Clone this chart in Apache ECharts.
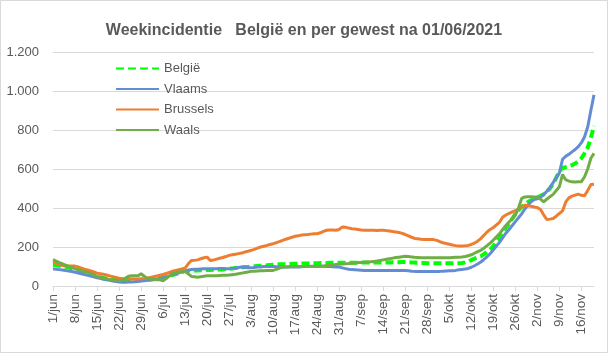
<!DOCTYPE html>
<html>
<head>
    <meta charset="utf-8">
    <title>Weekincidentie</title>
    <script src="https://cdn.jsdelivr.net/npm/echarts@6/dist/echarts.min.js"></script>
    <style>
        html, body { margin: 0; padding: 0; background: #fff; }
        #main { width: 608px; height: 353px; }
    </style>
</head>
<body>
<div id="main"></div>
<script>
    // maanden en aantal dagen per maand (1/jun t.e.m. 20/nov)
    var months = ['jun', 'jul', 'aug', 'sep', 'okt', 'nov'];
    var monthDays = [30, 31, 31, 30, 31, 20];

    var days = [];
    for (var m = 0; m < months.length; m++) {
        for (var d = 1; d <= monthDays[m]; d++) {
            days.push(d + '/' + months[m]);
        }
    }

    var seriesNames = ['België', 'Vlaams', 'Brussels', 'Waals'];

    var belgie = [
        109, 107, 104, 101, 98, 94, 90, 85,
        80, 75, 70, 65, 60, 55, 49,
        45, 41, 38, 35, 32, 30, 28,
        28, 28, 29, 29, 30, 30, 31,
        31, 32, 33, 35, 37, 39, 42,
        46, 51, 56, 61, 66, 71, 76,
        78, 79, 80, 80, 81, 81, 82,
        82, 83, 83, 84, 85, 87, 89,
        90, 92, 93, 95, 97, 98, 100,
        101, 103, 104, 105, 106, 108, 109,
        110, 111, 112, 112, 113, 114, 114,
        115, 115, 116, 116, 116, 117, 117,
        118, 118, 118, 119, 119, 119, 119,
        119, 119, 119, 119, 119, 119, 120,
        120, 120, 120, 120, 120, 121, 121,
        121, 121, 122, 122, 122, 123, 123,
        122, 121, 120, 119, 118, 118, 117,
        117, 117, 117, 117, 117, 117, 117,
        117, 117, 117, 118, 121, 126, 133,
        140, 146, 152, 163, 175, 186, 205,
        228, 251, 275, 298, 320, 345, 370,
        390, 405, 418, 431, 440, 448, 455,
        462, 470, 485, 500, 525, 555, 590,
        605, 610, 615, 620, 628, 640, 655,
        680, 710, 760, 820
    ];

    var vlaams = [
        88, 86, 84, 82, 79, 77, 74, 71,
        67, 63, 59, 55, 51, 47, 42,
        39, 35, 32, 29, 26, 23, 20,
        19, 19, 20, 21, 22, 23, 25,
        27, 29, 31, 33, 36, 39, 42,
        47, 52, 58, 63, 68, 72, 76,
        81, 85, 86, 86, 87, 88, 88,
        88, 89, 89, 90, 90, 88, 88,
        90, 92, 95, 97, 96, 94, 93,
        95, 97, 98, 100, 100, 100, 100,
        99, 98, 97, 97, 97, 97, 97,
        98, 99, 100, 100, 101, 101, 100,
        101, 101, 100, 100, 99, 98, 97,
        93, 89, 86, 84, 83, 82, 81,
        80, 80, 79, 79, 79, 79, 79,
        79, 80, 80, 80, 80, 79, 79,
        78, 76, 75, 75, 75, 74, 74,
        74, 74, 75, 75, 76, 77, 78,
        78, 80, 83, 85, 87, 90, 96,
        104, 113, 123, 136, 150, 166, 185,
        205, 225, 248, 271, 290, 310, 330,
        350, 370, 395, 415, 432, 443, 447,
        455, 470, 485, 505, 530, 555, 580,
        650, 665, 675, 688, 700, 715, 735,
        765, 815, 900, 980
    ];

    var brussels = [
        123, 118, 110, 105, 104, 103, 103, 102,
        98, 92, 86, 82, 77, 72, 66,
        63, 60, 56, 52, 48, 44, 40,
        38, 37, 37, 36, 36, 36, 37,
        38, 40, 44, 48, 51, 55, 59,
        64, 70, 76, 80, 84, 88, 92,
        114, 131, 132, 134, 140, 145, 148,
        131, 133, 138, 142, 146, 151, 157,
        160, 163, 166, 169, 174, 178, 183,
        188, 194, 200, 204, 208, 213, 217,
        222, 228, 234, 240, 245, 250, 255,
        258, 261, 263, 264, 266, 268, 268,
        273, 280, 286, 287, 287, 286, 290,
        303, 301, 297, 294, 292, 290, 287,
        286, 286, 286, 286, 285, 286, 286,
        284, 282, 279, 277, 274, 270, 264,
        257, 250, 244, 242, 240, 239, 238,
        238, 238, 234, 227, 222, 218, 214,
        210, 207, 205, 205, 206, 208, 213,
        220, 230, 243, 260, 277, 290, 300,
        314, 328, 354, 364, 372, 380, 386,
        395, 405, 414, 412, 409, 405, 402,
        392, 365, 341, 343, 346, 358, 372,
        385, 430, 452, 461, 466, 471, 465,
        463, 490, 520, 522
    ];

    var waals = [
        135, 128, 120, 114, 107, 101, 95, 88,
        84, 79, 74, 70, 64, 57, 49,
        45, 41, 37, 34, 31, 29, 27,
        30, 40, 50, 52, 52, 53, 63,
        50, 40, 35, 33, 32, 32, 27,
        38, 52, 64, 68, 72, 74, 76,
        62, 49, 47, 45, 48, 50, 52,
        52, 53, 53, 54, 55, 55, 56,
        58, 60, 63, 66, 69, 72, 75,
        76, 77, 78, 78, 79, 80, 80,
        85, 92, 97, 98, 99, 100, 100,
        100, 100, 100, 100, 100, 100, 100,
        101, 102, 104, 106, 108, 110, 112,
        113, 114, 115, 117, 118, 120, 121,
        122, 123, 124, 126, 128, 131, 134,
        137, 140, 143, 146, 148, 150, 152,
        151, 149, 147, 146, 145, 145, 145,
        145, 145, 145, 145, 145, 145, 145,
        146, 147, 148, 149, 151, 155, 160,
        168, 176, 183, 194, 207, 220, 236,
        252, 269, 290, 311, 328, 345, 363,
        400, 449, 457, 458, 458, 457, 457,
        445, 431, 445, 458, 470, 490, 509,
        572, 545, 538, 534, 533, 534, 535,
        560, 600, 655, 680
    ];

    var yTicks = [0, 200, 400, 600, 800, 1000, 1200];

    var textColor = '#595959';
    var gridColor = '#d9d9d9';
    var font = '"Liberation Sans", Arial, sans-serif';

    var myChart = echarts.init(document.getElementById('main'));
    var option = {
        backgroundColor: '#fff',
        animation: false,
        title: {
            text: 'Weekincidentie   België en per gewest na 01/06/2021',
            left: 'center',
            top: 18,
            textStyle: { fontFamily: font, fontSize: 16, fontWeight: 'bold', color: textColor }
        },
        legend: {
            orient: 'vertical',
            left: 110,
            top: 57,
            itemWidth: 43,
            itemHeight: 14,
            itemGap: 7.5,
            data: seriesNames,
            itemStyle: { opacity: 0 },
            textStyle: { fontFamily: font, fontSize: 13, color: textColor }
        },
        grid: { left: 53, right: 14, top: 52, bottom: 67 },
        xAxis: {
            type: 'category',
            boundaryGap: false,
            data: days,
            axisLine: { lineStyle: { color: gridColor } },
            axisTick: { show: true, interval: 6, length: 5, lineStyle: { color: gridColor } },
            axisLabel: {
                interval: 6, rotate: 90, margin: 8,
                fontFamily: font, fontSize: 13.5, color: textColor
            },
            splitLine: { show: false }
        },
        yAxis: {
            type: 'value',
            min: yTicks[0],
            max: yTicks[yTicks.length - 1],
            interval: 200,
            axisLine: { show: false },
            axisTick: { show: false },
            axisLabel: {
                margin: 14, fontFamily: font, fontSize: 13, color: textColor,
                formatter: function (v) { return String(v).replace(/\B(?=(\d{3})+(?!\d))/g, '.'); }
            },
            splitLine: { lineStyle: { color: gridColor, width: 1 } }
        },
        graphic: [{
            type: 'rect',
            shape: { x: 0.5, y: 0.5, width: 607, height: 352 },
            style: { fill: 'none', stroke: gridColor, lineWidth: 1 },
            silent: true
        }],
        series: [
            {
                name: 'België', type: 'line', data: belgie, symbol: 'none',
                lineStyle: { color: '#00ff00', width: 4, type: [8, 4] },
                itemStyle: { color: '#00ff00' }
            },
            {
                name: 'Vlaams', type: 'line', data: vlaams, symbol: 'none',
                lineStyle: { color: '#648cd2', width: 3 },
                itemStyle: { color: '#648cd2' }
            },
            {
                name: 'Brussels', type: 'line', data: brussels, symbol: 'none',
                lineStyle: { color: '#ed7d31', width: 3 },
                itemStyle: { color: '#ed7d31' }
            },
            {
                name: 'Waals', type: 'line', data: waals, symbol: 'none',
                lineStyle: { color: '#70ad47', width: 3 },
                itemStyle: { color: '#70ad47' }
            }
        ]
    };
    myChart.setOption(option);
</script>
</body>
</html>
